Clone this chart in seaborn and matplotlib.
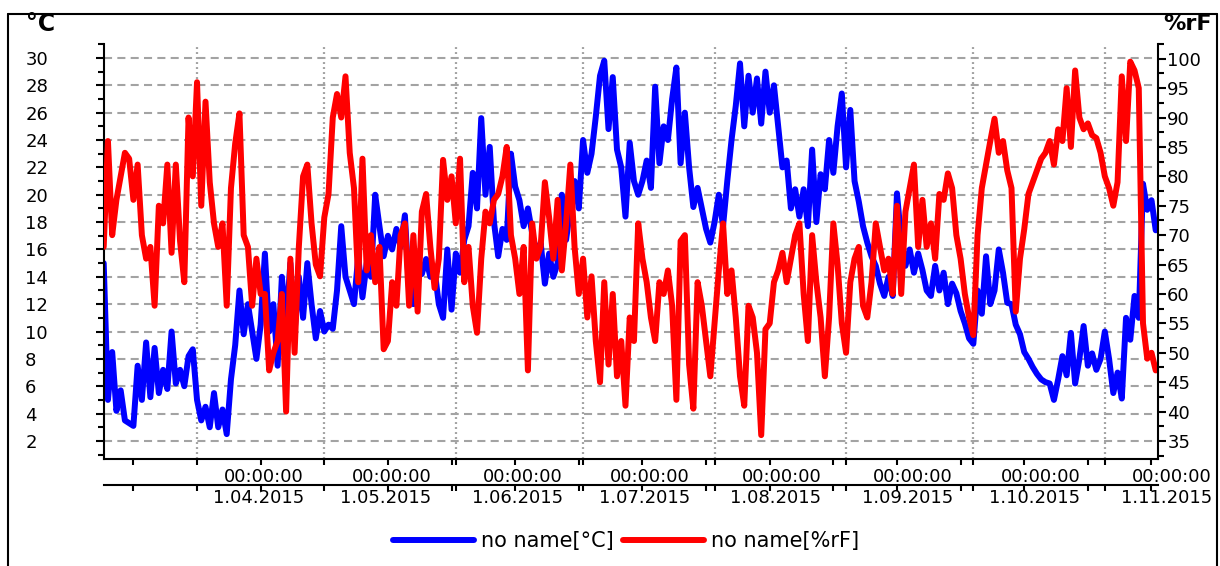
import numpy as np
import pandas as pd
import matplotlib
matplotlib.use("Agg")
import matplotlib.pyplot as plt
import matplotlib.dates as mdates
from matplotlib.lines import Line2D
import seaborn as sns

# ---------------- data ----------------
start_date = "2015-03-10"

temp_c = [
    15, 5, 8.5, 4.2, 5.7, 3.5, 3.3, 3.1, 7.5, 5,
    9.2, 5.2, 8.8, 5.5, 7.2, 5.8, 10, 6.2, 7.2, 6,
    8.2, 8.7, 5, 3.5, 4.5, 3, 5.5, 3, 4.3, 2.5,
    6.5, 9, 13, 9.8, 12, 10, 8, 10.5, 15.7, 10,
    12, 7.5, 14, 10.5, 15, 10, 14, 11, 15, 12,
    9.5, 11.5, 10, 10.5, 10.2, 13, 17.7, 14, 13, 12,
    15.5, 12.5, 15, 14, 20, 17.7, 15.5, 17, 16, 17.5,
    16.2, 18.5, 13, 12, 15.5, 14.2, 15.3, 14, 14.5, 12,
    11, 16, 11.6, 15.7, 14.3, 16.7, 17.7, 21.6, 19, 25.6,
    20, 23.5, 18, 15.5, 17.5, 16.7, 23, 20.6, 19.6, 17.7,
    19, 17.2, 15.5, 16.5, 13.5, 15.7, 14, 15, 20, 16.7,
    19, 21, 19, 24, 21.6, 23, 25.7, 28.7, 29.8, 24.8,
    28.6, 23.3, 22, 18.4, 23.8, 21, 20, 21, 22.5, 20.5,
    27.9, 22.3, 25, 24, 27, 29.3, 22.3, 26, 22, 19.1,
    20.5, 19, 17.5, 16.5, 18, 20, 17.7, 21, 24, 26.5,
    29.6, 25, 28.7, 26, 28.5, 25.2, 29, 26, 28, 25,
    22, 22.5, 19, 20.4, 18.4, 20.4, 17.7, 23.3, 18, 21.5,
    20.4, 24, 21.6, 25, 27.4, 22, 26.2, 21, 19.5, 17.7,
    16.5, 15.5, 14.8, 13.5, 12.6, 14, 12.6, 20.1, 16.7, 14.8,
    16, 14.3, 15.7, 14.5, 13, 12.6, 14.8, 13, 14.3, 12,
    13.5, 12.8, 11.5, 10.6, 9.5, 9.1, 13, 11.3, 15.5, 12,
    13, 16, 14.3, 12.1, 12, 10.5, 9.8, 8.5, 8, 7.4,
    6.9, 6.5, 6.3, 6.2, 5, 6.5, 8.2, 6.8, 9.9, 6.2,
    8, 10.4, 7.5, 8.4, 7.2, 8, 10, 8, 5.5, 7,
    5.1, 11, 9.4, 12.6, 11, 20.8, 18.9, 19.6, 17.4,
]

humidity = [
    68, 86, 70, 76, 80, 84, 83, 76, 82, 70,
    66, 68, 58, 75, 72, 82, 67, 82, 69, 62,
    90, 80, 96, 75, 92.7, 79, 72, 68, 72, 58,
    78, 85.6, 90.7, 70, 68, 58, 66, 60, 60, 47,
    50, 52, 60, 40, 66, 50, 68, 80, 82, 72,
    65, 63, 73, 77, 90, 94, 90, 97, 84, 78,
    62, 83, 64, 70, 62, 68, 50.6, 52, 62, 58,
    70, 72, 58, 70, 57, 74, 77, 68, 61, 66,
    82.8, 76, 80, 72, 83, 62, 68, 58, 53.4, 66,
    74, 72, 76, 77, 80, 85, 70, 66, 60, 68,
    47, 72, 66, 68, 79, 73, 66, 76, 64, 72,
    82, 68, 60, 66, 56, 63, 52, 45, 62, 48,
    60, 46, 52, 41, 56, 52, 72, 66, 62, 56,
    52, 62, 60, 64, 58, 42, 69, 70, 48, 40.5,
    62, 58, 52, 46, 55, 64, 72, 60, 64, 56,
    46, 41, 58, 56, 50, 36, 54, 55, 62, 64,
    67, 62, 66, 70, 72, 60, 52, 70, 62, 56,
    46, 56, 72, 65, 55, 50, 62, 66, 68, 58,
    56, 62, 72, 68, 64, 66, 60, 75, 60, 74,
    78, 82, 68, 76, 68, 72, 66, 77, 76, 80.5,
    78, 70, 66, 60, 56, 53, 70, 78, 82, 86,
    89.8, 84, 86, 81, 78, 57, 66, 71, 77, 79,
    81, 83, 84, 86, 82, 88, 86, 95, 85, 98,
    90, 88, 89, 87, 86.5, 84, 80, 78, 75, 79,
    97, 86, 99.5, 98, 95, 55, 49, 50, 47,
]

month_starts = ["2015-04-01", "2015-05-01", "2015-06-01", "2015-07-01",
                "2015-08-01", "2015-09-01", "2015-10-01", "2015-11-01"]
date_labels = ["1.04.2015", "1.05.2015", "1.06.2015", "1.07.2015",
               "1.08.2015", "1.09.2015", "1.10.2015", "1.11.2015"]
time_labels = ["00:00:00"] * 8
legend_labels = ["no name[°C]", "no name[%rF]"]
left_unit = "°C"
right_unit = "%rF"

# ---------------- style ----------------
sns.set_style("white")
plt.rcParams["font.family"] = ["DejaVu Sans"]
plt.rcParams["lines.scale_dashes"] = False
plt.rcParams["text.color"] = "black"

W, H = 1220, 566
fig = plt.figure(figsize=(W / 100, H / 100), dpi=100)
L, R = 103.7 / W, 1157.5 / W
B, T = 1 - 459 / H, 1 - 44 / H
ax = fig.add_axes([L, B, R - L, T - B])

dates = pd.date_range(start_date, periods=len(temp_c), freq="D")
blue, red = "#0000ff", "#ff0000"
LW = 4.3

sns.lineplot(x=dates, y=temp_c, ax=ax, color=blue, lw=LW, legend=False)
ax2 = ax.twinx()
sns.lineplot(x=dates, y=humidity, ax=ax2, color=red, lw=LW, legend=False)

ax.set_xlim(pd.Timestamp("2015-03-10"), pd.Timestamp("2015-11-13 10:00"))
ax.set_ylim(0.68, 31.02)
ax2.set_ylim(31.94, 102.37)
for a in (ax, ax2):
    a.set_xlabel("")
    a.set_ylabel("")

# y ticks
ax.set_yticks(np.arange(2, 31, 2))
ax.set_yticks(np.arange(1, 32, 2), minor=True)
ax2.set_yticks(np.arange(35, 101, 5))
ax2.set_yticks(np.arange(32.5, 103, 5), minor=True)

ax.tick_params(axis="y", which="major", direction="out", length=6, width=1.5,
               pad=50.5, labelsize=13, colors="black", left=True)
ax.tick_params(axis="y", which="minor", direction="out", length=4, width=1.5,
               left=True, color="black")
for lbl in ax.get_yticklabels():
    lbl.set_horizontalalignment("left")

ax2.tick_params(axis="y", which="major", direction="out", length=6, width=1.5,
                pad=1, labelsize=13, right=True, colors="black")
ax2.tick_params(axis="y", which="minor", direction="out", length=4, width=1.5,
                right=True, color="black")

# x ticks
mdates_major = pd.to_datetime(month_starts)
ax.set_xticks(mdates_major)
ax.set_xticks(pd.date_range("2015-03-17", "2015-11-13", freq="15D"), minor=True)
ax.tick_params(axis="x", which="both", direction="out", length=4, width=1.5,
               labelbottom=False, bottom=True, color="black")

# spines
for s in ["top", "right"]:
    ax.spines[s].set_visible(False)
for s in ["left", "bottom"]:
    ax.spines[s].set_color("black")
    ax.spines[s].set_linewidth(1.5)
for s in ["top", "left", "bottom"]:
    ax2.spines[s].set_visible(False)
ax2.spines["right"].set_color("black")
ax2.spines["right"].set_linewidth(1.5)

# grid
ax.set_axisbelow(True)
ax.grid(axis="y", which="major", color="#a3a3a3", linestyle=(0, (5.8, 3.8)), lw=1.5)
ax.grid(axis="x", which="major", color="#a3a3a3", linestyle=(0, (1.4, 2.2)), lw=1.6)
ax2.grid(False)

# second row of the time axis
axb = fig.add_axes([L, 1 - 485 / H, R - L, 1e-4], sharex=ax)
axb.set_yticks([])
axb.patch.set_visible(False)
for s in ["top", "left", "right"]:
    axb.spines[s].set_visible(False)
axb.spines["bottom"].set_color("black")
axb.spines["bottom"].set_linewidth(1.5)
axb.tick_params(axis="x", which="both", direction="out", length=4, width=1.5,
                labelbottom=False, bottom=True, color="black")
axb.grid(False)

px = 0.72
for d, tl, dl in zip(mdates_major, time_labels, date_labels):
    xd = mdates.date2num(d)
    ax.annotate(tl, xy=(xd, 0), xycoords=ax.get_xaxis_transform(),
                xytext=(107 * px, -18 * px), textcoords="offset points",
                ha="right", va="center", fontsize=13, color="black")
    ax.annotate(dl, xy=(xd, 0), xycoords=ax.get_xaxis_transform(),
                xytext=(107 * px, -39 * px), textcoords="offset points",
                ha="right", va="center", fontsize=13, color="black")

# unit titles
fig.text(26 / W, 1 - 24 / H, left_unit, fontsize=17, weight="bold",
         ha="left", va="center", color="black")
fig.text(1163 / W, 1 - 24 / H, right_unit, fontsize=16, weight="bold",
         ha="left", va="center", color="black")

# outer frame
fx0, fx1, fy1 = 7.5 / W, 1216.5 / W, 1 - 14 / H
fig.add_artist(Line2D([fx0, fx0], [0, fy1], transform=fig.transFigure, color="black", lw=1.5))
fig.add_artist(Line2D([fx0, fx1], [fy1, fy1], transform=fig.transFigure, color="black", lw=1.5))
fig.add_artist(Line2D([fx1, fx1], [0, fy1], transform=fig.transFigure, color="black", lw=1.5))

# legend
handles = [Line2D([], [], color=blue, lw=LW, solid_capstyle="round"),
           Line2D([], [], color=red, lw=LW, solid_capstyle="round")]
fig.legend(handles, legend_labels, loc="center", bbox_to_anchor=(626 / W, 1 - 541 / H),
           ncol=2, frameon=False, fontsize=15, handlelength=3.9,
           handletextpad=0.34, columnspacing=0.45, labelcolor="black")

fig.savefig("out.png", dpi=100)
